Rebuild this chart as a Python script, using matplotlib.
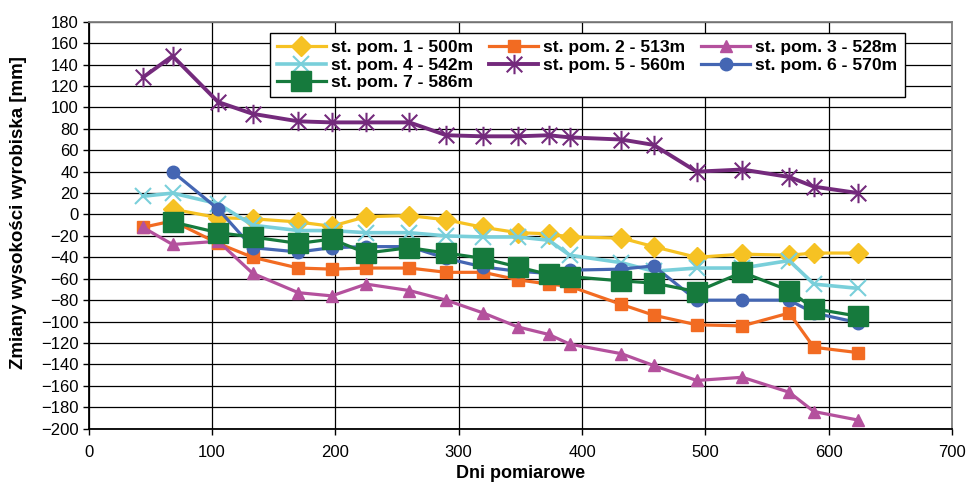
import matplotlib
matplotlib.use("Agg")
import matplotlib.pyplot as plt
from matplotlib.path import Path

plt.rcParams["font.family"] = ["Liberation Sans", "DejaVu Sans"]

# ---- data -----------------------------------------------------------------
days = [44, 68, 105, 133, 170, 197, 225, 260, 290, 320,
        348, 373, 390, 432, 458, 493, 530, 568, 588, 624]

st1 = [5, -3, -4, -7, -11, -2, -1, -5, -12, -17,
       -18, -21, -22, -30, -40, -37, -38, -36, -36]                # from day 68
st2 = [-12, -6, -27, -40, -50, -51, -50, -50, -54, -54,
       -61, -65, -67, -84, -94, -103, -104, -92, -124, -129]
st3 = [-12, -28, -25, -55, -73, -76, -65, -71, -80, -92,
       -105, -112, -121, -130, -141, -155, -152, -166, -184, -192]
st4 = [17, 20, 10, -10, -15, -15, -17, -17, -20, -21,
       -21, -24, -38, -45, -53, -50, -50, -43, -65, -69]
st5 = [128, 148, 105, 94, 87, 86, 86, 86, 74, 73,
       73, 74, 72, 70, 65, 40, 42, 35, 26, 20]
st6 = [40, 5, -31, -35, -31, -30, -30, -41, -49, -53,
       -55, -52, -51, -48, -80, -80, -80, -92, -101]              # from day 68
st7 = [-7, -17, -21, -27, -23, -36, -31, -36, -41, -49,
       -56, -58, -62, -64, -72, -54, -71, -88, -95]               # from day 68

labels = ["st. pom. 1 - 500m", "st. pom. 2 - 513m", "st. pom. 3 - 528m",
          "st. pom. 4 - 542m", "st. pom. 5 - 560m", "st. pom. 6 - 570m",
          "st. pom. 7 - 586m"]

# asterisk: vertical bar plus an X
star = Path([(0, -1), (0, 1), (-0.8, -0.8), (0.8, 0.8), (-0.8, 0.8), (0.8, -0.8)],
            [Path.MOVETO, Path.LINETO, Path.MOVETO, Path.LINETO, Path.MOVETO, Path.LINETO])

styles = [
    dict(color="#F6C223", marker="D", ms=10, lw=2.3),
    dict(color="#F26B22", marker="s", ms=9, lw=2.3),
    dict(color="#B4519D", marker="^", ms=9, lw=2.3),
    dict(color="#79CFDA", marker="x", ms=12, mew=1.5, lw=2.6),
    dict(color="#742A7C", marker=star, ms=14, mew=1.5, lw=2.8),
    dict(color="#4466B3", marker="o", ms=9, lw=2.3),
    dict(color="#167A3D", marker="s", ms=14, lw=2.3),
]
series = [(days[1:], st1), (days, st2), (days, st3), (days, st4),
          (days, st5), (days[1:], st6), (days[1:], st7)]

fig = plt.figure(figsize=(9.68, 4.84), dpi=100)
ax = fig.add_axes([0.0916, 0.1143, 0.8919, 0.8408])

handles = []
for (x, y), lab, st in zip(series, labels, styles):
    h, = ax.plot(x, y, label=lab, **st)
    handles.append(h)

ax.set_xlim(0, 700)
ax.set_ylim(-200, 180)
ax.set_xticks(range(0, 701, 100))
ax.set_yticks(range(-200, 181, 20))
ax.grid(True, color="black", lw=0.9)
ax.set_axisbelow(True)
ax.tick_params(direction="out", length=4, width=1, labelsize=12, pad=3)
ax.tick_params(axis="x", pad=8)
for s in ("left", "bottom"):
    ax.spines[s].set_color("black")
    ax.spines[s].set_linewidth(1.3)
for s in ("top", "right"):
    ax.spines[s].set_color("#808080")
    ax.spines[s].set_linewidth(1.3)

ax.set_xlabel("Dni pomiarowe", fontsize=13, fontweight="bold", labelpad=3)
ax.set_ylabel("Zmiany wysokości wyrobiska [mm]", fontsize=13.5, fontweight="bold")
ax.yaxis.set_label_coords(-0.071, 0.53)

# row-wise legend order for 3 columns
order = [0, 3, 6, 1, 4, 2, 5]
leg = ax.legend([handles[i] for i in order], [labels[i] for i in order],
                ncol=3, loc="upper left", bbox_to_anchor=(0.21, 0.972),
                prop=dict(weight="bold", size=12.6), frameon=True, fancybox=False,
                edgecolor="black", framealpha=1, handlelength=2.8,
                columnspacing=0.9, handletextpad=0.3, labelspacing=0.12,
                borderpad=0.4, borderaxespad=0)
leg.get_frame().set_linewidth(1.0)

fig.savefig("out.png", dpi=100)
